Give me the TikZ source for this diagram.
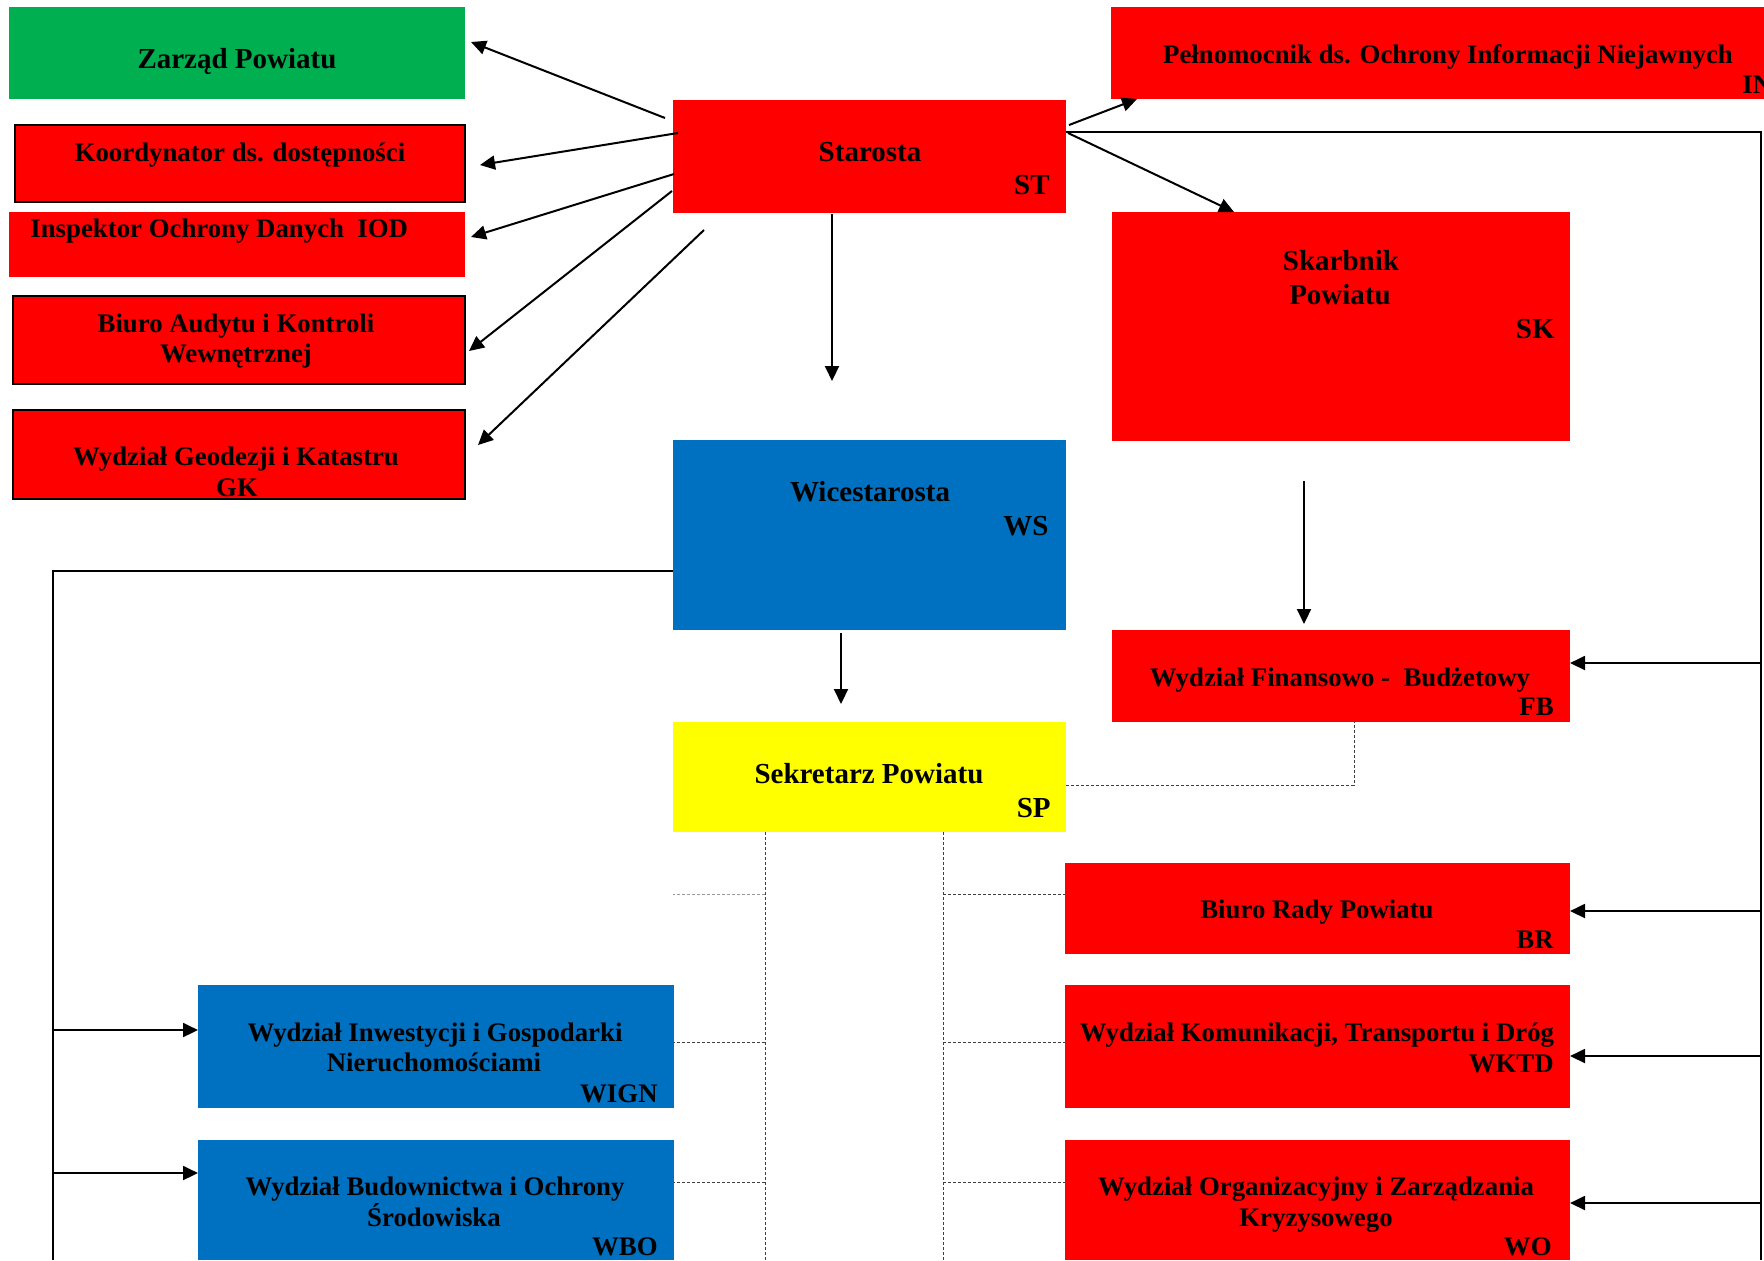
\documentclass[tikz,border=0pt]{standalone}
\usepackage{fontspec}
\setmainfont{Liberation Serif}
\usetikzlibrary{arrows.meta,fit}
\definecolor{cred}{RGB}{255,0,0}
\definecolor{cblue}{RGB}{0,112,192}
\definecolor{cgreen}{RGB}{0,176,80}
\definecolor{cyellow}{RGB}{255,255,0}
\begin{document}
\begin{tikzpicture}[x=0.5pt,y=-0.5pt,
  box/.style={inner sep=0pt, outer sep=0pt},
  redbox/.style={box, fill=cred},
  bredbox/.style={box, fill=cred, draw=black, line width=1pt},
  bluebox/.style={box, fill=cblue},
  greenbox/.style={box, fill=cgreen},
  yellowbox/.style={box, fill=cyellow},
  big/.style={font=\fontsize{14.5}{15}\selectfont\bfseries, inner sep=0pt, anchor=base},
  sml/.style={font=\fontsize{13.4}{15}\selectfont\bfseries, inner sep=0pt, anchor=base},
  abbr/.style={sml, anchor=base east},
  babbr/.style={big, anchor=base east},
  arr/.style={line width=1pt, -{Triangle[length=7.5pt,width=7pt]}},
  ln/.style={line width=1pt},
  dsh/.style={line width=0.5pt, dash pattern=on 1.5pt off 1pt, black!75},
  ldsh/.style={line width=0.5pt, dash pattern=on 1.5pt off 1pt, black!40}
]
\useasboundingbox (0,0) rectangle (1764,1260);

% ---------- boxes ----------
\node[greenbox, fit={(9,7)(465,99)}] (zp) {};
\node[bredbox, fit={(15,125)(465,202)}] (kd) {};
\node[redbox, fit={(9,212)(465,277)}] (iod) {};
\node[bredbox, fit={(13,296)(465,384)}] (bak) {};
\node[bredbox, fit={(13,410)(465,499)}] (gk) {};
\node[redbox, fit={(1111,7)(1764,99)}] (pn) {};
\node[redbox, fit={(673,100)(1066,213)}] (st) {};
\node[redbox, fit={(1112,212)(1570,441)}] (sk) {};
\node[bluebox, fit={(673,440)(1066,630)}] (ws) {};
\node[yellowbox, fit={(673,722)(1066,832)}] (sp) {};
\node[redbox, fit={(1112,630)(1570,722)}] (fb) {};
\node[redbox, fit={(1065,863)(1570,954)}] (br) {};
\node[redbox, fit={(1065,985)(1570,1108)}] (wktd) {};
\node[redbox, fit={(1065,1140)(1570,1260)}] (wo) {};
\node[bluebox, fit={(198,985)(674,1108)}] (wign) {};
\node[bluebox, fit={(198,1140)(674,1260)}] (wbo) {};

% ---------- texts ----------
\node[big] (zpt) at (237,68) {Zarząd Powiatu};
\node[sml] (kdt) at (240,161) {Koordynator ds. dostępności};
\node[sml, anchor=base west] (iodt) at (30,237) {Inspektor Ochrony Danych\ \ IOD};
\node[sml] (bak1) at (236,332) {Biuro Audytu i Kontroli};
\node[sml] (bak2) at (236,362) {Wewnętrznej};
\node[sml] (gk1) at (236,465) {Wydział Geodezji i Katastru};
\node[sml] (gk2) at (237,496) {GK};
\node[sml] (pnt) at (1448,63) {Pełnomocnik ds. Ochrony Informacji Niejawnych};
\node[sml, anchor=base west] (pna) at (1742,93) {IN};
\node[big] (stt) at (870,161) {Starosta};
\node[babbr] (sta) at (1050,194) {ST};
\node[big] (sk1) at (1341,270) {Skarbnik};
\node[big] (sk2) at (1340,304) {Powiatu};
\node[babbr] (ska) at (1555,338) {SK};
\node[big] (wst) at (870,501) {Wicestarosta};
\node[babbr] (wsa) at (1049,535) {WS};
\node[big] (spt) at (869,783) {Sekretarz Powiatu};
\node[babbr] (spa) at (1051,817) {SP};
\node[sml] (fbt) at (1340,686) {Wydział Finansowo -\ \ Budżetowy};
\node[abbr] (fba) at (1554,715) {FB};
\node[sml] (brt) at (1317,918) {Biuro Rady Powiatu};
\node[abbr] (bra) at (1554,948) {BR};
\node[sml] (wktdt) at (1317,1041) {Wydział Komunikacji, Transportu i Dróg};
\node[abbr] (wktda) at (1554,1072) {WKTD};
\node[sml] (wo1) at (1316,1195) {Wydział Organizacyjny i Zarządzania};
\node[sml] (wo2) at (1316,1226) {Kryzysowego};
\node[abbr] (woa) at (1552,1255) {WO};
\node[sml] (wign1) at (435,1041) {Wydział Inwestycji i Gospodarki};
\node[sml] (wign2) at (434,1071) {Nieruchomościami};
\node[abbr] (wigna) at (658,1102) {WIGN};
\node[sml] (wbo1) at (435,1195) {Wydział Budownictwa i Ochrony};
\node[sml] (wbo2) at (434,1226) {Środowiska};
\node[abbr] (wboa) at (658,1255) {WBO};

% ---------- connector end points ----------
\coordinate (s1) at (665,118);  \coordinate (e1) at (471,42);
\coordinate (s2) at (678,133);  \coordinate (e2) at (480,165);
\coordinate (s3) at (674,174);  \coordinate (e3) at (471,237);
\coordinate (s4) at (672,191);  \coordinate (e4) at (469,351);
\coordinate (s5) at (704,230);  \coordinate (e5) at (478,445);
\coordinate (s6) at (832,214);  \coordinate (e6) at (832,381);
\coordinate (s7) at (1069,125); \coordinate (e7) at (1137,99);
\coordinate (s8) at (1068,133); \coordinate (e8) at (1234,212);
\coordinate (r0) at (1066,132); \coordinate (r1) at (1761,132); \coordinate (r2) at (1761,1260);
\coordinate (s9) at (1304,481); \coordinate (e9) at (1304,624);
\coordinate (l0) at (673,571);  \coordinate (l1) at (53,571);   \coordinate (l2) at (53,1260);
\coordinate (s10) at (841,633); \coordinate (e10) at (841,704);
\coordinate (d0) at (1066,785); \coordinate (d1) at (1354,785); \coordinate (d2) at (1354,722);
\coordinate (va0) at (765,832); \coordinate (va1) at (765,1260);
\coordinate (vb0) at (943,832); \coordinate (vb1) at (943,1260);

% ---------- Starosta connectors ----------
\draw[arr] (s1) -- (e1);
\draw[arr] (s2) -- (e2);
\draw[arr] (s3) -- (e3);
\draw[arr] (s4) -- (e4);
\draw[arr] (s5) -- (e5);
\draw[arr] (s6) -- (e6);
\draw[arr] (s7) -- (e7);
\draw[arr] (s8) -- (e8);
\draw[ln] (r0) -- (r1) -- (r2);
\draw[arr] (r1 |- 0,663) -- (fb.east |- 0,663);
\draw[arr] (r1 |- 0,911) -- (br.east |- 0,911);
\draw[arr] (r1 |- 0,1056) -- (wktd.east |- 0,1056);
\draw[arr] (r1 |- 0,1203) -- (wo.east |- 0,1203);

% ---------- Skarbnik ----------
\draw[arr] (s9) -- (e9);

% ---------- Wicestarosta ----------
\draw[ln] (l0) -- (l1) -- (l2);
\draw[arr] (l1 |- 0,1030) -- (wign.west |- 0,1030);
\draw[arr] (l1 |- 0,1173) -- (wbo.west |- 0,1173);
\draw[arr] (s10) -- (e10);

% ---------- Sekretarz (dashed) ----------
\draw[dsh] (d0) -- (d1) -- (d2);
\draw[dsh] (va0) -- (va1);
\draw[dsh] (vb0) -- (vb1);
\draw[ldsh] (va0 |- 0,894) -- (673,894);
\draw[dsh] (vb0 |- 0,894) -- (br.west |- 0,894);
\draw[dsh] (va0 |- 0,1042) -- (wign.east |- 0,1042);
\draw[dsh] (vb0 |- 0,1042) -- (wktd.west |- 0,1042);
\draw[dsh] (va0 |- 0,1182) -- (wbo.east |- 0,1182);
\draw[dsh] (vb0 |- 0,1182) -- (wo.west |- 0,1182);
\end{tikzpicture}
\end{document}
